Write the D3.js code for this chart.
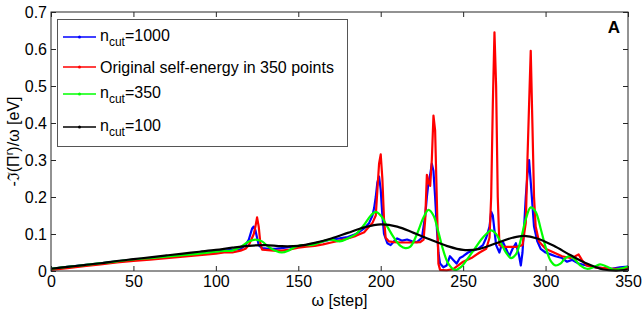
<!DOCTYPE html>
<html>
<head>
<meta charset="utf-8">
<script src="https://cdn.jsdelivr.net/npm/d3@7"></script>
<style>
  body { margin: 0; background: #fff; }
  svg { font-family: "Liberation Sans", Arial, sans-serif; }
</style>
</head>
<body>
<div id="plot"></div>
<script>

// [step, value] pairs
var ncut1000 = [
[0,0.006],[10,0.011],[20,0.016],[30,0.021],[40,0.026],[50,0.03],[60,0.034],[70,0.038],[80,0.042],[90,0.047],
[100,0.052],[105,0.055],[110,0.057],[115,0.06],[118,0.07],[120,0.085],[121,0.1],[122,0.115],[123,0.12],[124,0.11],
[125,0.09],[126,0.07],[128,0.062],[132,0.06],[136,0.06],[140,0.062],[145,0.065],[150,0.067],[155,0.07],[160,0.075],
[165,0.08],[170,0.085],[175,0.088],[180,0.092],[185,0.1],[190,0.115],[193,0.13],[195,0.15],[196,0.17],[197,0.2],
[198,0.24],[199,0.255],[200,0.22],[201,0.15],[202,0.1],[204,0.075],[206,0.07],[208,0.08],[210,0.088],[213,0.082],
[216,0.085],[219,0.08],[222,0.078],[225,0.09],[227,0.15],[228,0.2],[229,0.24],[230,0.26],[231,0.29],[232,0.27],
[233,0.2],[234,0.12],[235,0.05],[236,0.02],[238,0.01],[240,0.015],[242,0.04],[244,0.03],[246,0.02],[248,0.035],
[250,0.04],[253,0.05],[256,0.055],[259,0.06],[262,0.07],[264,0.09],[266,0.12],[267,0.16],[268,0.15],[269,0.11],
[270,0.07],[272,0.05],[274,0.08],[276,0.06],[278,0.04],[280,0.06],[282,0.075],[284,0.04],[285,0.015],[286,0.05],
[287,0.12],[288,0.2],[289,0.26],[290,0.3],[291,0.24],[292,0.18],[293,0.12],[295,0.08],[297,0.06],[300,0.05],
[303,0.045],[306,0.04],[310,0.035],[313,0.025],[316,0.03],[320,0.02],[325,0.015],[330,0.01],[335,0.008],[340,0.006],
[345,0.01],[350,0.012]
];

var original350 = [
[0,0.003],[10,0.008],[20,0.013],[30,0.018],[40,0.023],[50,0.027],[60,0.031],[70,0.035],[80,0.039],[90,0.043],
[100,0.047],[105,0.05],[110,0.05],[115,0.055],[118,0.06],[120,0.07],[122,0.09],[123,0.1],[124,0.12],[125,0.145],
[126,0.12],[127,0.075],[128,0.058],[130,0.057],[135,0.055],[140,0.055],[145,0.058],[150,0.063],[155,0.066],[160,0.068],
[165,0.072],[170,0.077],[175,0.082],[180,0.088],[185,0.095],[190,0.105],[193,0.12],[195,0.13],[197,0.15],[198,0.22],
[199,0.29],[200,0.315],[201,0.25],[202,0.14],[203,0.09],[205,0.08],[208,0.078],[212,0.077],[216,0.077],[220,0.077],
[224,0.078],[226,0.085],[227,0.14],[228,0.26],[229,0.24],[230,0.23],[231,0.3],[232,0.42],[233,0.38],[234,0.2],
[235,0.02],[236,0.003],[240,0.002],[244,0.005],[247,0.015],[250,0.025],[255,0.035],[260,0.05],[264,0.06],[266,0.09],
[267,0.2],[268,0.45],[269,0.645],[270,0.5],[271,0.2],[272,0.07],[274,0.065],[278,0.065],[282,0.065],[286,0.07],
[288,0.13],[289,0.3],[290,0.45],[291,0.595],[292,0.4],[293,0.2],[294,0.12],[296,0.08],[300,0.06],[305,0.05],
[310,0.04],[315,0.035],[318,0.04],[320,0.045],[322,0.03],[325,0.015],[330,0.01],[335,0.008],[340,0.006],[345,0.006],
[350,0.007]
];

var ncut350 = [
[0,0.006],[10,0.011],[20,0.016],[30,0.021],[40,0.026],[50,0.031],[60,0.035],[70,0.039],[80,0.043],[90,0.047],
[100,0.052],[105,0.054],[110,0.055],[115,0.065],[120,0.08],[124,0.085],[128,0.08],[132,0.065],[136,0.055],[140,0.05],
[144,0.055],[148,0.065],[152,0.07],[156,0.07],[160,0.072],[165,0.08],[170,0.085],[175,0.08],[180,0.088],[185,0.1],
[190,0.125],[194,0.15],[197,0.16],[200,0.15],[204,0.12],[208,0.09],[212,0.068],[215,0.062],[218,0.066],[222,0.1],
[226,0.145],[229,0.165],[232,0.15],[235,0.105],[238,0.055],[241,0.02],[245,0.003],[249,0.012],[253,0.035],[257,0.06],
[261,0.085],[264,0.1],[267,0.11],[270,0.1],[273,0.075],[276,0.05],[279,0.035],[282,0.045],[285,0.085],[288,0.14],
[291,0.172],[294,0.16],[297,0.115],[300,0.065],[303,0.028],[306,0.015],[309,0.02],[312,0.035],[315,0.04],[318,0.03],
[321,0.015],[325,0.006],[329,0.01],[333,0.018],[337,0.012],[341,0.004],[345,0.006],[350,0.012]
];

var ncut100 = [
[0,0.006],[10,0.011],[20,0.016],[30,0.021],[40,0.027],[50,0.032],[60,0.037],[70,0.042],[80,0.047],[90,0.052],
[100,0.057],[110,0.063],[120,0.068],[130,0.07],[140,0.067],[150,0.068],[160,0.076],[170,0.088],[180,0.103],[190,0.118],
[200,0.126],[210,0.12],[220,0.103],[230,0.085],[240,0.068],[250,0.057],[260,0.06],[270,0.075],[280,0.09],[287,0.095],
[295,0.088],[305,0.068],[315,0.043],[325,0.02],[335,0.004],[343,0.001],[350,0.004]
];

var xTicks = [0, 50, 100, 150, 200, 250, 300, 350];
var yTicks = [0, 0.1, 0.2, 0.3, 0.4, 0.5, 0.6, 0.7];

var series = [
	{ data: ncut1000, color: "#0000ff", smooth: false, sub: true, label: "=1000" },
	{ data: original350, color: "#ff0000", smooth: false, sub: false, label: "Original self-energy in 350 points" },
	{ data: ncut350, color: "#00ff00", smooth: true, sub: true, label: "=350" },
	{ data: ncut100, color: "#000000", smooth: true, sub: true, label: "=100" }
];

var plotLeft = 51, plotTop = 12, plotWidth = 577, plotHeight = 259;

var svg = d3.select("#plot")
	.append("svg")
	.attr("width", 644)
	.attr("height", 315);

var x = d3.scaleLinear().domain([0, 350]).range([plotLeft, plotLeft + plotWidth]);
var y = d3.scaleLinear().domain([0, 0.7]).range([plotTop + plotHeight, plotTop]);

// lines
series.forEach(function(s){
	var line = d3.line()
		.x(function(d){ return x(d[0]); })
		.y(function(d){ return y(d[1]); })
		.curve(s.smooth ? d3.curveCatmullRom : d3.curveLinear);

	svg.append("path")
		.datum(s.data)
		.attr("d", line)
		.style("fill", "none")
		.style("stroke", s.color)
		.style("stroke-width", 2.2)
		.style("stroke-linejoin", "round");
});

// axes, ticks pointing inward on every side
var fmtY = function(d){ return d === 0 ? "0" : d3.format(".1f")(d); };

svg.append("g")
	.attr("transform", "translate(0," + (plotTop + plotHeight) + ")")
	.call(d3.axisBottom(x).tickValues(xTicks).tickSizeInner(-5).tickSizeOuter(0).tickPadding(5));

svg.append("g")
	.attr("transform", "translate(" + plotLeft + ",0)")
	.call(d3.axisLeft(y).tickValues(yTicks).tickFormat(fmtY).tickSizeInner(-5).tickSizeOuter(0).tickPadding(4));

svg.append("g")
	.attr("transform", "translate(0," + plotTop + ")")
	.call(d3.axisTop(x).tickValues(xTicks).tickFormat("").tickSizeInner(-5).tickSizeOuter(0));

svg.append("g")
	.attr("transform", "translate(" + (plotLeft + plotWidth) + ",0)")
	.call(d3.axisRight(y).tickValues(yTicks).tickFormat("").tickSizeInner(-5).tickSizeOuter(0));

svg.selectAll(".domain").remove();
svg.selectAll(".tick line").style("stroke", "#262626");
svg.selectAll(".tick text")
	.style("font-family", "'Liberation Sans', Arial, sans-serif")
	.style("font-size", "16px")
	.style("fill", "#000");

svg.append("rect")
	.attr("x", plotLeft)
	.attr("y", plotTop)
	.attr("width", plotWidth)
	.attr("height", plotHeight)
	.style("fill", "none")
	.style("stroke", "#262626")
	.style("stroke-width", 1);

// axis labels
svg.append("text")
	.attr("x", plotLeft + plotWidth / 2)
	.attr("y", 306)
	.attr("text-anchor", "middle")
	.style("font-size", "16px")
	.text("ω [step]");

var yl = svg.append("text")
	.attr("transform", "translate(19," + (plotTop + plotHeight / 2) + ") rotate(-90)")
	.attr("text-anchor", "middle")
	.style("font-size", "16px");
yl.append("tspan").text("-ℑ(Π");
yl.append("tspan").attr("dy", -6).style("font-size", "11px").text("r");
yl.append("tspan").attr("dy", 6).text(")/ω [eV]");

svg.append("text")
	.attr("x", 614)
	.attr("y", 33)
	.attr("text-anchor", "middle")
	.style("font-size", "17px")
	.style("font-weight", "bold")
	.text("A");

// legend
var lg = svg.append("g");
lg.append("rect")
	.attr("x", 57.5)
	.attr("y", 19.5)
	.attr("width", 290)
	.attr("height", 127)
	.style("fill", "#fff")
	.style("stroke", "#555")
	.style("stroke-width", 1);

var lineY = [37, 67, 94, 127];
var textY = [41, 73, 98, 131];

series.forEach(function(s, i){
	lg.append("line")
		.attr("x1", 63).attr("x2", 96)
		.attr("y1", lineY[i]).attr("y2", lineY[i])
		.style("stroke", s.color)
		.style("stroke-width", 1.5);
	lg.append("circle")
		.attr("cx", 79.5).attr("cy", lineY[i]).attr("r", 1.5)
		.style("fill", s.color);

	var t = lg.append("text")
		.attr("x", 100)
		.attr("y", textY[i])
		.style("font-size", "16px");
	if (s.sub) {
		t.append("tspan").text("n");
		t.append("tspan").attr("dy", 5).style("font-size", "12px").text("cut");
		t.append("tspan").attr("dy", -5).text(s.label);
	} else {
		t.text(s.label);
	}
});

</script>
</body>
</html>
